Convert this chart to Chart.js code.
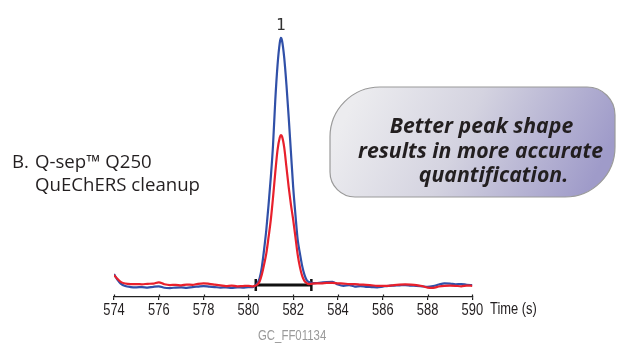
<!DOCTYPE html>
<html>
<head>
<meta charset="utf-8">
<script src="https://cdn.jsdelivr.net/npm/chart.js@4"></script>
<style>
  html, body { margin: 0; padding: 0; background: #fff; }
  #wrap { width: 619px; height: 348px; position: relative; }
</style>
</head>
<body>
<div id="wrap"><canvas id="chrom"></canvas></div>
<script>
// retention time (s)
const times = [
    574.0, 574.15, 574.3, 574.5, 574.75, 575.0, 575.25, 575.5, 575.75, 576.0,
    576.25, 576.5, 576.75, 577.0, 577.25, 577.5, 577.75, 578.0, 578.25, 578.5,
    578.75, 579.0, 579.25, 579.5, 579.75, 580.0,
    580.2, 580.3, 580.4, 580.5, 580.6, 580.7, 580.8, 580.9, 581.0, 581.1,
    581.2, 581.3, 581.4, 581.45, 581.5, 581.6, 581.7, 581.8, 581.9, 582.0,
    582.1, 582.2, 582.3, 582.4, 582.5, 582.6, 582.7, 582.8,
    583.0, 583.25, 583.5, 583.75, 584.0, 584.25, 584.5, 584.75, 585.0, 585.25,
    585.5, 585.75, 586.0, 586.25, 586.5, 586.75, 587.0, 587.25, 587.5, 587.75,
    588.0, 588.25, 588.5, 588.75, 589.0, 589.25, 589.5, 589.75, 590.0
];

// blue trace (relative response)
const blueTrace = [
    5.2, 3.0, 1.4, 0.4, 0.0, -0.1, 0.0, -0.2, 0.1, 0.3,
    -0.3, -0.4, -0.2, -0.1, -0.3, 0.0, 0.2, 0.4, 0.2, 0.0,
    -0.2, -0.1, -0.3, -0.1, -0.2, 0.0,
    0.0, 0.6, 1.5, 3.5, 8, 15, 23, 33, 44, 57,
    75, 89, 98, 100, 99, 92, 81, 68, 54, 40,
    29, 19, 13.5, 8.5, 5, 2.8, 2.0, 1.7,
    1.6, 1.8, 2.0, 2.1, 1.0, 0.5, 0.8, 0.2, 0.4, 0.1,
    0.0, -0.1, 0.2, 0.5, 0.6, 0.7, 0.8, 0.6, 0.5, 0.3,
    0.1, 0.4, 1.0, 1.5, 1.4, 1.1, 1.2, 0.9, 0.8
];

// red trace (Q-sep Q250 cleanup)
const redTrace = [
    4.8, 3.3, 2.1, 1.4, 1.2, 1.2, 1.1, 1.3, 1.4, 1.9,
    1.1, 0.8, 0.9, 0.7, 1.0, 0.9, 1.3, 1.5, 1.3, 1.0,
    0.7, 0.4, 0.6, 0.3, 0.4, 0.5,
    0.3, 0.5, 1.0, 2.2, 5, 9, 13.5, 20, 27, 36,
    46, 55, 60, 61, 60.5, 56, 48, 40, 33, 27,
    20, 13, 8, 4.5, 2.5, 1.6, 1.2, 1.3,
    1.5, 1.5, 1.7, 1.7, 1.5, 1.4, 1.2, 1.2, 1.0, 0.9,
    0.7, 0.5, 0.5, 0.5, 0.8, 1.0, 1.1, 1.0, 0.8, 0.4,
    -0.2, -0.3, 0.2, 0.5, 0.6, 0.5, 0.3, 0.6, 0.5
];

// integration window marker
const windowTimes = [580.33, 582.81];
const windowLevel = 0.8;

const peakLabel = '1';
const peakTime = 581.45;
const peakTop = 100;

const axisTitle = 'Time (s)';
const sampleLines = ['Q-sep\u2122 Q250', 'QuEChERS cleanup'];
const sampleTag = 'B.';
const calloutLines = ['Better peak shape', 'results in more accurate', 'quantification.'];
const figureId = 'GC_FF01134';

const SQUEEZE = 0.76;   // fake a condensed face
const axisFont = "'Liberation Sans', Arial, sans-serif";

// linear scale whose tick labels are drawn horizontally squeezed
class NarrowLinearScale extends Chart.LinearScale {
    drawLabels(chartArea) {
        const ctx = this.ctx;
        this.getLabelItems(chartArea).forEach(item => {
            const o = item.options;
            ctx.save();
            ctx.translate(o.translation[0], o.translation[1]);
            ctx.scale(SQUEEZE, 1);
            ctx.font = item.font.string;
            ctx.fillStyle = o.color;
            ctx.textAlign = o.textAlign;
            ctx.textBaseline = o.textBaseline;
            ctx.fillText(item.label, 0, item.textOffset);
            ctx.restore();
        });
    }
}
NarrowLinearScale.id = 'narrowLinear';
NarrowLinearScale.defaults = Chart.LinearScale.defaults;
Chart.register(NarrowLinearScale);

// draw text squeezed so that it takes `width` pixels
function squeezedText(ctx, text, x, y, font, width, align) {
    ctx.font = font;
    const sx = width ? width / ctx.measureText(text).width : SQUEEZE;
    ctx.save();
    ctx.translate(x, y);
    ctx.scale(sx, 1);
    ctx.textAlign = align || 'left';
    ctx.fillText(text, 0, 0);
    ctx.restore();
}

const decorations = {
    id: 'decorations',
    afterDraw(chart) {
        const ctx = chart.ctx;
        const xs = chart.scales.x;
        const ys = chart.scales.y;
        ctx.save();
        ctx.textBaseline = 'alphabetic';

        // upper half of the axis ticks
        ctx.strokeStyle = '#222';
        ctx.lineWidth = 1.2;
        xs.ticks.forEach(t => {
            const px = Math.round(xs.getPixelForValue(t.value)) + 0.5;
            ctx.beginPath();
            ctx.moveTo(px, xs.top - 2.5);
            ctx.lineTo(px, xs.top);
            ctx.stroke();
        });

        // peak number
        ctx.fillStyle = '#333';
        ctx.font = "16px 'DejaVu Sans Mono', monospace";
        ctx.textAlign = 'center';
        ctx.fillText(peakLabel, xs.getPixelForValue(peakTime), ys.getPixelForValue(peakTop) - 8);

        // axis title
        ctx.fillStyle = '#231f20';
        squeezedText(ctx, axisTitle, 490, 314, '17px ' + axisFont, 0, 'left');

        // sample description
        const descFont = "18px 'Open Sans', sans-serif";
        ctx.font = descFont;
        const sx = 165 / ctx.measureText(sampleLines[1]).width;
        squeezedText(ctx, sampleTag, 12, 167.5, descFont, ctx.measureText(sampleTag).width * sx);
        squeezedText(ctx, sampleLines[0], 35, 167.5, descFont, ctx.measureText(sampleLines[0]).width * sx);
        squeezedText(ctx, sampleLines[1], 35, 191, descFont, 165);

        // callout bubble
        const bx = 330, by = 87, bw = 285, bh = 110;
        const grad = ctx.createLinearGradient(bx + 30, by, bx + bw - 30, by + bh);
        grad.addColorStop(0, '#ececef');
        grad.addColorStop(0.45, '#d4d3e0');
        grad.addColorStop(1, '#9f9bc9');
        ctx.beginPath();
        ctx.roundRect(bx, by, bw, bh, [50, 28, 50, 25]);
        ctx.fillStyle = grad;
        ctx.fill();
        ctx.strokeStyle = '#9a9a9a';
        ctx.lineWidth = 1.2;
        ctx.stroke();

        ctx.fillStyle = '#231f20';
        const callFont = "italic bold 20.5px 'Open Sans', sans-serif";
        ctx.font = callFont;
        const cx = 245 / ctx.measureText(calloutLines[1]).width;
        squeezedText(ctx, calloutLines[0], 481.5, 132.5, callFont, ctx.measureText(calloutLines[0]).width * cx, 'center');
        squeezedText(ctx, calloutLines[1], 480.5, 157.5, callFont, 245, 'center');
        squeezedText(ctx, calloutLines[2], 493.5, 181.5, callFont, ctx.measureText(calloutLines[2]).width * cx, 'center');

        // figure id
        ctx.fillStyle = '#9a9a9a';
        squeezedText(ctx, figureId, 258, 339.5, '15px ' + axisFont, 0, 'left');

        ctx.restore();
    }
};

new Chart(document.getElementById('chrom'), {
    type: 'line',
    data: {
        datasets: [
            {
                label: 'Window',
                data: windowTimes.map(t => ({ x: t, y: windowLevel })),
                borderColor: '#111',
                borderWidth: 3,
                pointStyle: 'line',
                rotation: 90,
                pointRadius: 6,
                pointBorderWidth: 2.5,
                pointBorderColor: '#111',
                order: 3
            },
            {
                label: 'Blue',
                data: times.map((t, i) => ({ x: t, y: blueTrace[i] })),
                borderColor: '#3050a8',
                borderWidth: 2.2,
                pointRadius: 0,
                cubicInterpolationMode: 'monotone',
                order: 2
            },
            {
                label: 'Red',
                data: times.map((t, i) => ({ x: t, y: redTrace[i] })),
                borderColor: '#e8202c',
                borderWidth: 2.2,
                pointRadius: 0,
                cubicInterpolationMode: 'monotone',
                order: 1
            }
        ]
    },
    options: {
        responsive: true,
        maintainAspectRatio: false,
        animation: false,
        layout: { padding: { left: 114, right: 146.6, top: 25.5, bottom: 0 } },
        plugins: {
            legend: { display: false },
            tooltip: { enabled: false }
        },
        scales: {
            x: {
                type: 'narrowLinear',
                min: 574,
                max: 590,
                afterFit: s => { s.height = 51; },
                border: { display: true, color: '#222', width: 1.2 },
                grid: { drawOnChartArea: false, drawTicks: true, tickLength: 3, color: '#222', lineWidth: 1.2 },
                ticks: {
                    stepSize: 2,
                    padding: 0,
                    color: '#231f20',
                    font: { family: axisFont, size: 17 }
                }
            },
            y: {
                display: false,
                min: -4,
                max: 105
            }
        }
    },
    plugins: [decorations]
});
</script>
</body>
</html>
